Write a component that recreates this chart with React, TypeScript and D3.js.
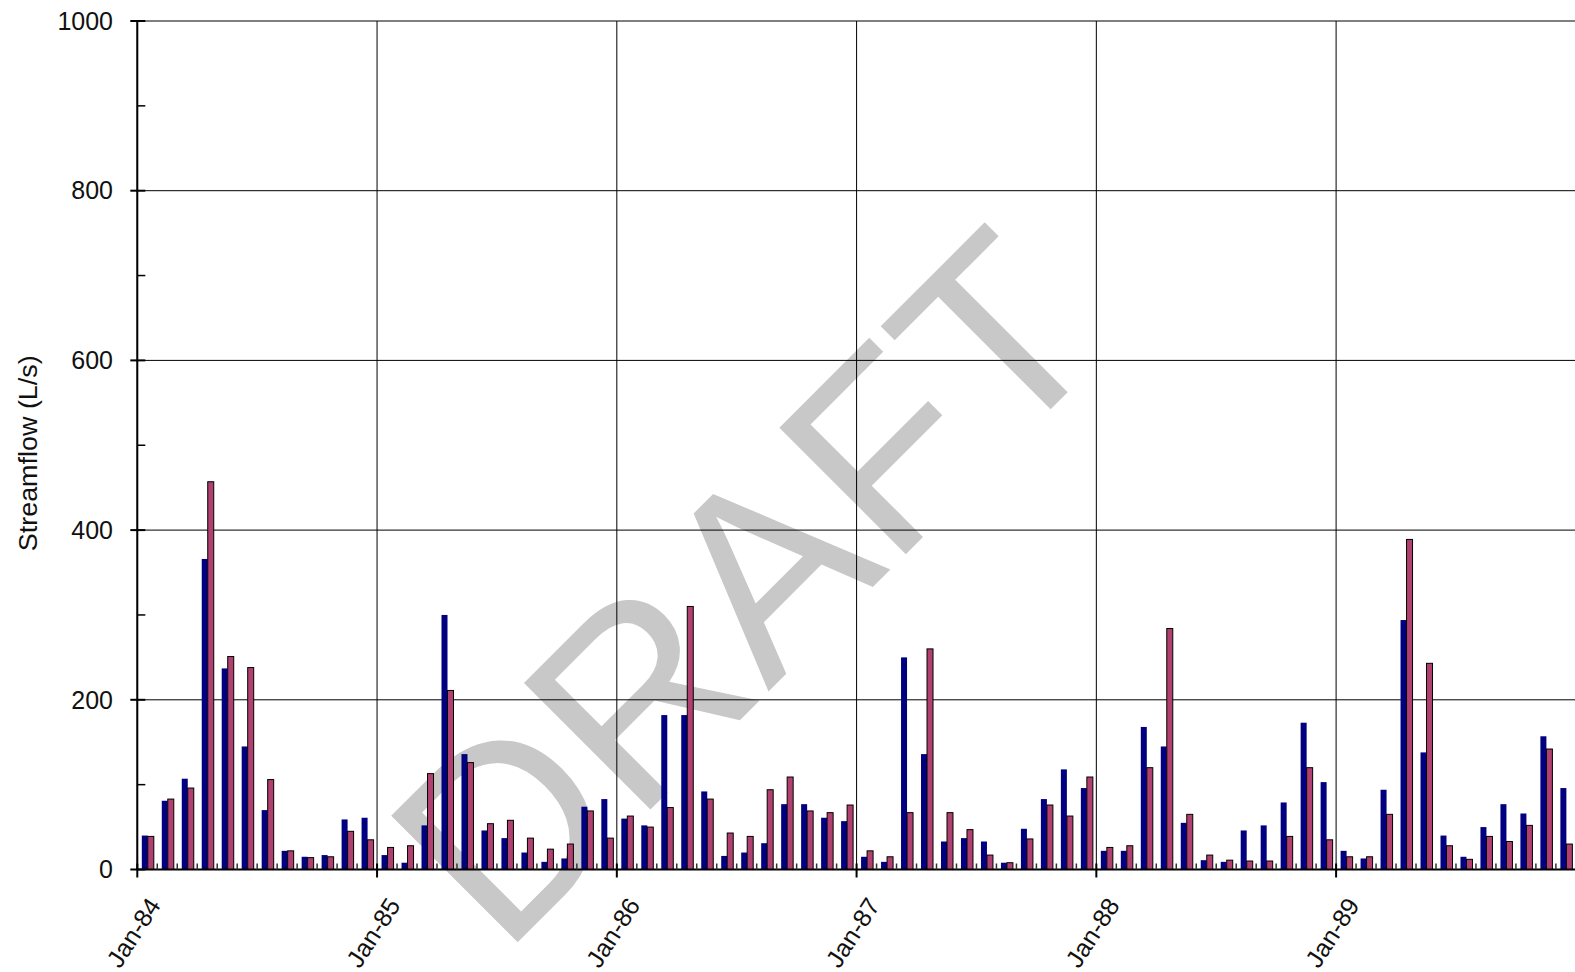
import React from 'react';
import * as d3 from 'd3';

// monthly streamflow, Jan-84 .. Dec-89
const observed = [
  40, 81, 107, 366, 237, 145, 70, 22, 15, 17, 59, 61,
  17, 8, 52, 300, 136, 46, 37, 20, 9, 13, 74, 83,
  60, 52, 182, 182, 92, 16, 20, 31, 77, 77, 61, 57,
  15, 9, 250, 136, 33, 37, 33, 8, 48, 83, 118, 96,
  22, 22, 168, 145, 55, 11, 9, 46, 52, 79, 173, 103,
  22, 13, 94, 294, 138, 40, 15, 50, 77, 66, 157, 96,
];
const simulated = [
  39, 83, 96, 457, 251, 238, 106, 22, 14, 15, 45, 35,
  26, 28, 113, 211, 126, 54, 58, 37, 24, 30, 69, 37,
  63, 50, 73, 310, 83, 43, 39, 94, 109, 69, 67, 76,
  22, 15, 67, 260, 67, 47, 17, 8, 36, 76, 63, 109,
  26, 28, 120, 284, 65, 17, 11, 10, 10, 39, 120, 35,
  15, 15, 65, 389, 243, 28, 12, 39, 33, 52, 142, 30,
];
const yearLabels = ['Jan-84', 'Jan-85', 'Jan-86', 'Jan-87', 'Jan-88', 'Jan-89'];
const series = ['observed', 'simulated'];
const colors = { observed: '#000080', simulated: '#B0406F' };

const W = 1575;
const H = 972;
const left = 137.3;
const monthW = 19.98;
const font = '"Liberation Sans", Arial, sans-serif';

export default function App() {
  const months = d3.range(observed.length);
  const x = d3.scaleBand<number>().domain(months).range([left, left + months.length * monthW]);
  const xs = d3.scaleBand<string>().domain(series).range([4.5, 16.5]);
  const y = d3.scaleLinear().domain([0, 1000]).range([869.5, 21]);
  const y0 = y(0);
  const majors = d3.range(0, 1001, 200);
  const minors = d3.range(100, 1000, 200);
  const right = x.range()[1];

  return (
    <svg width={W} height={H} style={{ position: 'absolute', left: 0, top: 0, background: '#fff' }}>
      <text
        transform="translate(809,651) rotate(-45)"
        textAnchor="middle"
        fontFamily={font}
        fontSize={260}
        fill="#c8c8c8"
      >
        DRAFT
      </text>

      {/* grid */}
      {majors.map(v => (
        <line key={'h' + v} x1={left} x2={right} y1={y(v)} y2={y(v)} stroke="#000" strokeWidth={1} />
      ))}
      {yearLabels.map((_, i) => (
        <line key={'v' + i} x1={x(i * 12)} x2={x(i * 12)} y1={y(1000)} y2={y0} stroke="#000" strokeWidth={1} />
      ))}

      {/* bars */}
      {months.map(m => (
        <g key={m} transform={`translate(${x(m)},0)`}>
          <rect x={xs('observed')} width={xs.bandwidth()} y={y(observed[m])} height={y0 - y(observed[m])} fill={colors.observed} />
          <rect x={xs('simulated')} width={xs.bandwidth()} y={y(simulated[m])} height={y0 - y(simulated[m])}
            fill={colors.simulated} stroke="#000" strokeWidth={1} />
        </g>
      ))}

      {/* axes */}
      <line x1={left} x2={left} y1={y(1000)} y2={y0} stroke="#000" strokeWidth={2} />
      <line x1={left} x2={right} y1={y0} y2={y0} stroke="#000" strokeWidth={2} />
      {majors.map(v => (
        <g key={'yt' + v}>
          <line x1={left - 7} x2={left + 8} y1={y(v)} y2={y(v)} stroke="#000" strokeWidth={2} />
          <text x={113} y={y(v)} dy="0.35em" textAnchor="end" fontFamily={font} fontSize={25} fill="#111">
            {v}
          </text>
        </g>
      ))}
      {minors.map(v => (
        <line key={'ym' + v} x1={left} x2={left + 8} y1={y(v)} y2={y(v)} stroke="#000" strokeWidth={1.5} />
      ))}
      {months.filter(m => m % 12 !== 0).map(m => (
        <line key={'xm' + m} x1={x(m)} x2={x(m)} y1={y0} y2={y0 - 6} stroke="#333" strokeWidth={1.5} />
      ))}
      {yearLabels.map((label, i) => (
        <g key={label}>
          <line x1={x(i * 12)} x2={x(i * 12)} y1={y0 - 6} y2={y0 + 8} stroke="#000" strokeWidth={2} />
          <text
            transform={`translate(${x(i * 12)! + 17},${y0 + 31}) rotate(-57)`}
            textAnchor="end"
            dy="0.35em"
            fontFamily={font}
            fontSize={25}
            fill="#111"
          >
            {label}
          </text>
        </g>
      ))}

      <text
        transform={`translate(37,${(y(1000) + y0) / 2 + 8}) rotate(-90)`}
        textAnchor="middle"
        fontFamily={font}
        fontSize={26}
        textLength={196}
        lengthAdjust="spacingAndGlyphs"
        fill="#111"
      >
        Streamflow (L/s)
      </text>
    </svg>
  );
}
